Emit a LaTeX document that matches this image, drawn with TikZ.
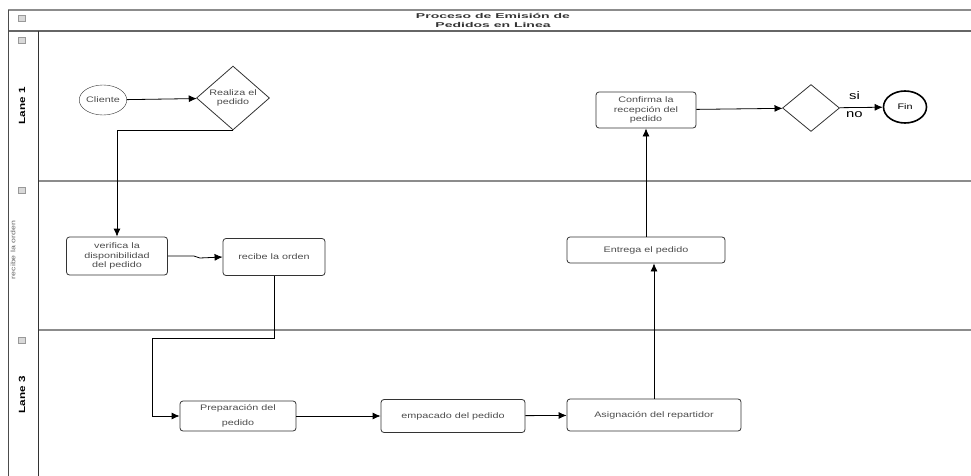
\documentclass[tikz,border=0pt]{standalone}
\usepackage{fontspec}
\setmainfont{Liberation Sans}
\newfontfamily\widesans[FakeStretch=1.35]{Liberation Sans}
\newfontfamily\lanesans[FakeStretch=1.3]{Liberation Sans}
\newfontfamily\titlesans[FakeStretch=2.0]{Liberation Sans}
\usetikzlibrary{arrows.meta, positioning, shapes.geometric}
\tikzset{
  task/.style    = {draw, thick, black!80, rounded corners=3pt, align=center,
                    font=\widesans\fontsize{8}{9.3}\selectfont, text=black!70,
                    inner sep=1pt},
  gate/.style    = {draw, thick, black!80, diamond, inner sep=0pt, align=center,
                    font=\widesans\fontsize{8}{9}\selectfont, text=black!70},
  event/.style   = {draw, black!80, ellipse, inner sep=0pt,
                    font=\widesans\fontsize{8}{9}\selectfont, text=black!70},
  lanerule/.style = {black!45, line width=1.3pt},
  lanename/.style = {rotate=90, font=\lanesans\bfseries\fontsize{9}{10}\selectfont},
  minibox/.style = {draw=black!40, fill=black!15, minimum width=7pt,
                    minimum height=6pt, inner sep=0pt},
  flow/.style    = {-{Latex[length=8pt, width=7pt]}, line width=0.8pt},
  guard/.style   = {font=\widesans\fontsize{11}{12}\selectfont, inner sep=1pt},
}

\begin{document}
\begin{tikzpicture}[x=1pt, y=-1pt]
    \useasboundingbox (0,0) rectangle (971,476);

    % --- pool frame and lanes ---------------------------------------------
    \draw[lanerule] (8,10) -- (971,10);
    \draw[lanerule, black!60] (8,31) -- (971,31);
    \draw[lanerule] (38,181) -- (971,181);
    \draw[lanerule] (38,330) -- (971,330);
    \draw[black!70, thin] (8,10) -- (8,476);
    \draw[black!80, line width=1pt] (38,31) -- (38,476);

    \node[font=\titlesans\bfseries\fontsize{7}{9}\selectfont, align=center,
          text=black!80, inner sep=0pt]
      (title) at (493,20) {Proceso de Emisión de\\Pedidos en Linea};

    \node[minibox] (ic0) at (22,18) {};
    \node[minibox] (ic1) at (22,40) {};
    \node[minibox] (ic2) at (22,190) {};
    \node[minibox] (ic3) at (22,340) {};

    \node[lanename] (lane1) at (22,106) {Lane 1};
    \node[rotate=90, font=\widesans\fontsize{6.5}{7}\selectfont, text=black!60]
      (lane2) at (13,250) {recibe la orden};
    \node[lanename] (lane3) at (22,395) {Lane 3};

    % --- lane 1 ------------------------------------------------------------
    \node[event, minimum width=44pt, minimum height=30pt]
      (cliente) at (103,100) {Cliente};
    \node[gate, minimum width=73pt, minimum height=50pt]
      (realiza) at (233,98) {Realiza el\\pedido};
    \node[task, minimum width=100pt, minimum height=36pt]
      (confirma) at (646,110) {Confirma la\\recepción del\\pedido};
    \node[gate, minimum width=57pt, minimum height=47pt]
      (decide) at (811,108) {};
    \node[event, line width=1.6pt, black, minimum width=43pt, minimum height=32pt]
      (fin) at (905,107) {Fin};

    % --- lane 2 ------------------------------------------------------------
    \node[task, minimum width=101pt, minimum height=38pt]
      (verifica) at (117,256) {verifica la\\disponibilidad\\del pedido};
    \node[task, minimum width=102pt, minimum height=37pt]
      (recibe) at (274,257) {recibe la orden};
    \node[task, minimum width=158pt, minimum height=26pt]
      (entrega) at (646,250) {Entrega el pedido};

    % --- lane 3 ------------------------------------------------------------
    \node[task, minimum width=116pt, minimum height=30pt]
      (prepara) at (238,416) {Preparación del\\[6pt]pedido};
    \node[task, minimum width=144pt, minimum height=33pt]
      (empaca) at (453,416) {empacado del pedido};
    \node[task, minimum width=174pt, minimum height=32pt]
      (asigna) at (654,415) {Asignación del repartidor};

    % --- sequence flows ----------------------------------------------------
    \draw[flow] (cliente) -- (realiza);
    \draw[flow] (realiza.south) -| (verifica.north);
    \draw[flow] (verifica.east) -- ++(26,0) -- ++(6,2) -- (recibe.west);
    \draw[flow] (recibe.south) -- ++(0,62) -- ++(-122,0) |- (prepara.west);
    \draw[flow] (prepara) -- (empaca);
    \draw[flow] (empaca) -- (asigna);
    \draw[flow] (asigna.north) -- (asigna.north |- entrega.south);
    \draw[flow] (entrega.north) -- (confirma.south);
    \draw[flow] (confirma) -- (decide);
    \draw[flow] (decide) -- (fin);

    \node[guard, anchor=south west] at ([xshift=8pt, yshift=7pt]decide.east)
      (si) {si};
    \node[guard, anchor=north west] at ([xshift=5pt, yshift=-2pt]decide.east)
      (no) {no};

  \end{tikzpicture}
\end{document}
